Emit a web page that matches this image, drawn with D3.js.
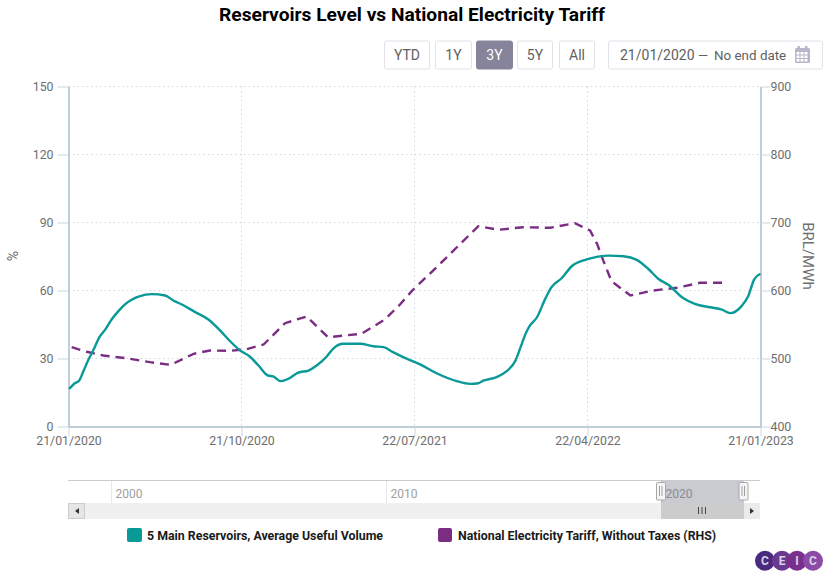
<!DOCTYPE html>
<html><head><meta charset="utf-8">
<script src="https://cdnjs.cloudflare.com/ajax/libs/d3/7.8.5/d3.min.js"></script>
<style>html,body{margin:0;padding:0;background:#fff}svg{display:block}text{font-family:Roboto,sans-serif}</style>
</head><body><div id="c"></div>
<script>
const reservoirDates = ["2020-01-22","2020-01-31","2020-02-07","2020-02-13","2020-02-21","2020-02-29","2020-03-10","2020-03-20","2020-03-29","2020-04-09","2020-04-19","2020-04-30","2020-05-12","2020-06-01","2020-06-22","2020-07-05","2020-07-21","2020-08-06","2020-08-29","2020-09-17","2020-10-03","2020-10-19","2020-11-03","2020-11-17","2020-12-02","2020-12-10","2020-12-22","2021-01-03","2021-01-19","2021-02-04","2021-02-17","2021-03-05","2021-03-15","2021-03-31","2021-04-27","2021-05-18","2021-06-03","2021-06-18","2021-07-04","2021-07-31","2021-08-26","2021-09-27","2021-10-18","2021-10-31","2021-11-08","2021-11-29","2021-12-15","2021-12-29","2022-01-06","2022-01-15","2022-01-21","2022-02-01","2022-02-14","2022-02-24","2022-03-12","2022-03-28","2022-04-21","2022-05-25","2022-06-18","2022-07-09","2022-07-27","2022-08-12","2022-08-28","2022-09-21","2022-10-09","2022-11-02","2022-11-21","2022-12-04","2022-12-22","2023-01-02","2023-01-11","2023-01-21"];
const reservoirValues = [16.6,19.1,20.3,24.0,29.1,33.5,39.4,43.1,47.1,50.9,53.8,55.9,57.4,58.4,57.8,55.6,53.5,50.9,47.3,42.4,37.6,33.5,30.9,26.9,22.5,22.1,20.0,21.0,23.8,24.7,26.9,30.9,34.3,36.5,36.5,35.4,35.0,32.8,30.6,27.4,23.5,20.0,18.8,19.1,20.2,21.8,24.4,29.1,35.0,41.6,44.6,48.2,56.3,61.5,65.4,70.7,73.7,75.4,75.1,73.5,69.6,65.2,62.5,56.6,54.1,52.6,51.6,50.0,53.1,57.8,64.9,67.4];
const tariffDates = ["2020-01-26","2020-02-19","2020-03-16","2020-04-22","2020-05-29","2020-07-01","2020-08-06","2020-09-01","2020-10-03","2020-10-29","2020-11-25","2020-12-29","2021-02-01","2021-03-07","2021-04-29","2021-06-05","2021-06-29","2021-07-20","2021-08-26","2021-10-31","2021-12-02","2022-01-10","2022-02-22","2022-04-02","2022-04-26","2022-05-07","2022-05-17","2022-05-30","2022-06-29","2022-08-04","2022-09-10","2022-10-17","2022-11-23"];
const tariffValues = [516.6,509.9,504.4,500.4,494.6,490.7,506.9,511.8,511.3,513.7,520.6,551.9,561.8,531.3,536.3,557.4,579.4,601.5,634.3,694.6,689.3,693.1,692.2,699,688.2,669,644,613.7,592.6,600,604,611.3,611.3];
const xTicks = ["2020-01-21","2020-10-21","2021-07-22","2022-04-22","2023-01-21"];
const leftTicks = [0,30,60,90,120,150];
const rightTicks = [400,500,600,700,800,900];
const navYears = [2000,2010,2020];
const rangeButtons = ["YTD","1Y","3Y","5Y","All"];
const legendNames = ["5 Main Reservoirs, Average Useful Volume","National Electricity Tariff, Without Taxes (RHS)"];
const logoLetters = ["C","E","I","C"];

const TEAL="#099a97", PURPLE="#7b2d83", AXIS="#a9bcc8", GRID="#cfdae0", TXT="#6e6e6e";
const parse=d3.utcParse("%Y-%m-%d"), fmt=d3.utcFormat("%d/%m/%Y");
const svg=d3.select("#c").append("svg").attr("width",826).attr("height",575);

const x=d3.scaleUtc().domain([parse("2020-01-21"),parse("2023-01-21")]).range([68.5,760.5]);
const yL=d3.scaleLinear().domain([0,150]).range([426.5,86.5]);
const yR=d3.scaleLinear().domain([400,900]).range([426.5,86.5]);

svg.append("text").attr("x",412).attr("y",21).attr("text-anchor","middle").attr("font-size",19.2).attr("font-weight",700).attr("fill","#000").text("Reservoirs Level vs National Electricity Tariff");

// grid
const grid=svg.append("g").attr("stroke",GRID).attr("stroke-dasharray","1.5,3").attr("fill","none");
leftTicks.slice(1).forEach(t=>grid.append("line").attr("x1",68.5).attr("x2",760.5).attr("y1",yL(t)).attr("y2",yL(t)));
xTicks.slice(1,-1).forEach(t=>grid.append("line").attr("x1",x(parse(t))).attr("x2",x(parse(t))).attr("y1",86.5).attr("y2",426.5));

// axes
function styleAxis(g){g.select(".domain").attr("stroke",AXIS).attr("stroke-width",1.5);
  g.selectAll(".tick line").attr("stroke","#ccd6dd");
  g.selectAll(".tick text").attr("fill",TXT).attr("font-size",12.3).attr("font-family","Roboto,sans-serif");}
svg.append("g").attr("transform","translate(68.5,0)").call(d3.axisLeft(yL).tickValues(leftTicks).tickSize(11).tickSizeOuter(0).tickPadding(4)).call(styleAxis);
svg.append("g").attr("transform","translate(760.5,0)").call(d3.axisRight(yR).tickValues(rightTicks).tickSize(10).tickSizeOuter(0).tickPadding(0)).call(styleAxis);
svg.append("g").attr("transform","translate(0,426.5)").call(d3.axisBottom(x).tickValues(xTicks.map(parse)).tickFormat(fmt).tickSize(10).tickSizeOuter(0).tickPadding(0)).call(styleAxis);

svg.append("text").attr("transform","translate(18,256) rotate(-90)").attr("text-anchor","middle").attr("font-size",14).attr("fill",TXT).text("%");
svg.append("text").attr("transform","translate(803,256) rotate(90)").attr("text-anchor","middle").attr("font-size",15).attr("fill",TXT).text("BRL/MWh");

// series
const lineL=d3.line().x((d,i)=>x(parse(reservoirDates[i]))).y(d=>yL(d)).curve(d3.curveMonotoneX);
const lineR=d3.line().x((d,i)=>x(parse(tariffDates[i]))).y(d=>yR(d));
svg.append("path").attr("d",lineR(tariffValues)).attr("fill","none").attr("stroke",PURPLE).attr("stroke-width",2.4).attr("stroke-dasharray","9,6");
svg.append("path").attr("d",lineL(reservoirValues)).attr("fill","none").attr("stroke",TEAL).attr("stroke-width",2.4);

// range buttons
const btnX=[384,435,476,517,559], btnW=[45,36,36,35,35];
rangeButtons.forEach((b,i)=>{const on=b==="3Y";
  svg.append("rect").attr("x",btnX[i]+.5).attr("y",41).attr("width",btnW[i]).attr("height",28).attr("rx",2).attr("fill",on?"#86849b":"#fff").attr("stroke",on?"#86849b":"#e2e1ea");
  svg.append("text").attr("x",btnX[i]+.5+btnW[i]/2).attr("y",60).attr("text-anchor","middle").attr("font-size",14).attr("fill",on?"#fff":"#5f5f5f").text(b);
});
svg.append("rect").attr("x",608.5).attr("y",41).attr("width",214).attr("height",28).attr("rx",2).attr("fill","#fff").attr("stroke","#e2e1ea");
[["21/01/2020",620,14],["—",698,13],["No end date",714,13.4]].forEach(([t,px,fs])=>svg.append("text").attr("x",px).attr("y",60).attr("font-size",fs).attr("fill","#5f5f5f").text(t));
// calendar icon
const cal=svg.append("g").attr("transform","translate(795,46)");
cal.append("rect").attr("x",0).attr("y",2).attr("width",15).attr("height",15).attr("rx",1.5).attr("fill","#b9b6cb");
cal.selectAll(".k").data([2.5,10]).join("rect").attr("x",d=>d).attr("y",0).attr("width",2.5).attr("height",4).attr("fill","#b9b6cb");
[1.5,5.5,9.5].forEach(cx=>[6,9.5,13].forEach(cy=>cal.append("rect").attr("x",cx).attr("y",cy).attr("width",3).attr("height",2.5).attr("fill","#fff")));

// navigator
const nav=d3.scaleLinear().domain([2000,2020]).range([111.5,661.5]);
svg.append("line").attr("x1",68).attr("x2",760).attr("y1",480.5).attr("y2",480.5).attr("stroke","#c8ccd0");
navYears.forEach(y=>{
  svg.append("line").attr("x1",nav(y)).attr("x2",nav(y)).attr("y1",481).attr("y2",503).attr("stroke","#e8e8e8");
  svg.append("text").attr("x",nav(y)+4).attr("y",498).attr("font-size",12).attr("fill","#a0a0a0").text(y);
});
svg.append("rect").attr("x",68).attr("y",503).attr("width",692).attr("height",16).attr("fill","#f0f0f0");
svg.append("rect").attr("x",661).attr("y",481).attr("width",83).attr("height",22).attr("fill","#66667a").attr("opacity",.35);
svg.append("rect").attr("x",661).attr("y",503).attr("width",83).attr("height",16).attr("fill","#cccccc");
svg.append("rect").attr("x",68.5).attr("y",503.5).attr("width",16).attr("height",15).attr("fill","#e6e6e6").attr("stroke","#ccc");
svg.append("rect").attr("x",744).attr("y",503).attr("width",16).attr("height",16).attr("fill","#ebebeb");
svg.append("path").attr("d","M79,508v6l-4,-3z").attr("fill","#333");
svg.append("path").attr("d","M750,508v6l4,-3z").attr("fill","#333");
[698.5,702,705.5].forEach(px=>svg.append("line").attr("x1",px).attr("x2",px).attr("y1",507).attr("y2",514).attr("stroke","#444"));
[661,743.5].forEach(hx=>{
  svg.append("rect").attr("x",hx-4.5).attr("y",482.5).attr("width",9).attr("height",17.5).attr("rx",1).attr("fill","#f5f5f5").attr("stroke","#a8a8a8");
  [-1.5,1].forEach(o=>svg.append("line").attr("x1",hx+o).attr("x2",hx+o).attr("y1",486).attr("y2",496).attr("stroke","#a0a0a0"));
});

// legend
const legX=[127,438], legW=[15,14], legC=[TEAL,PURPLE], legT=[147,458];
legendNames.forEach((n,i)=>{
  svg.append("rect").attr("x",legX[i]).attr("y",528).attr("width",legW[i]).attr("height",14).attr("rx",2).attr("fill",legC[i]);
  svg.append("text").attr("x",legT[i]).attr("y",540).attr("font-size",12.35).attr("font-weight",700).attr("fill","#1a1a1a").text(n);
});

// logo
const logoX=[765,782,797,813], logoC=["#4a2a7e","#6a3990","#7b2f8c","#8b4ba6"];
logoLetters.forEach((l,i)=>{
  svg.append("circle").attr("cx",logoX[i]).attr("cy",560.8).attr("r",10).attr("fill",logoC[i]);
  svg.append("text").attr("x",logoX[i]).attr("y",565.2).attr("text-anchor","middle").attr("font-size",12).attr("font-weight",700).attr("fill","#d9d3e6").text(l);
});
</script></body></html>
